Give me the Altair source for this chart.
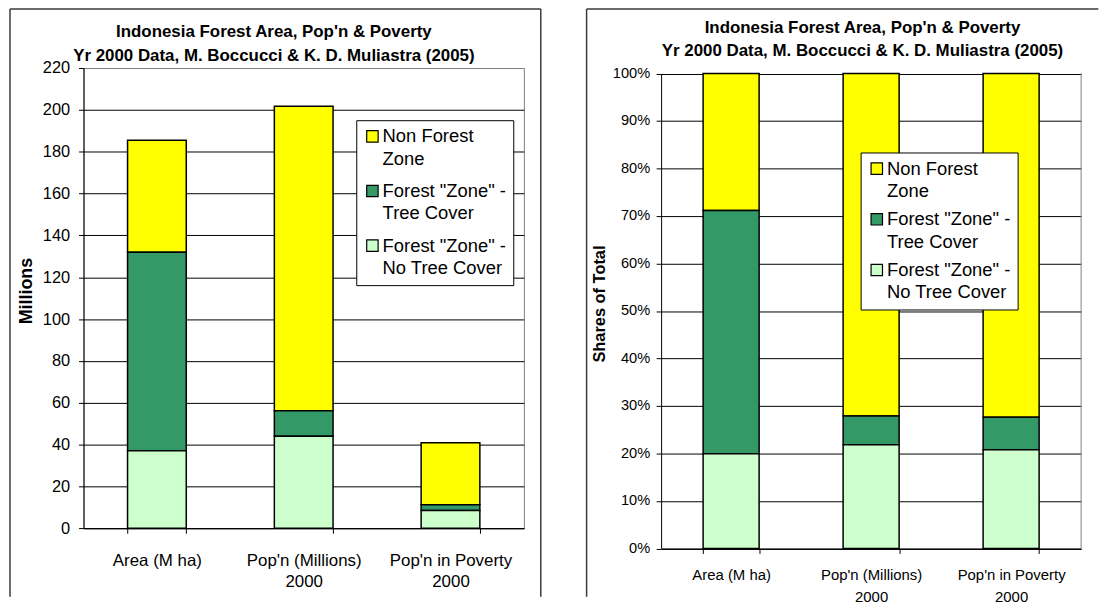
import json
import altair as alt
import pandas as pd

# ---------------- data ----------------
category_lines = [["Area (M ha)"], ["Pop'n (Millions)", "2000"], ["Pop'n in Poverty", "2000"]]
categories = ["\n".join(c) for c in category_lines]

series = ['Non Forest Zone', 'Forest "Zone" - Tree Cover', 'Forest "Zone" - No Tree Cover']
series_lines = [["Non Forest", "Zone"], ['Forest "Zone" -', "Tree Cover"], ['Forest "Zone" -', "No Tree Cover"]]
series_colors = ["#FFFF00", "#339966", "#CCFFCC"]
stack_rank = [2, 1, 0]  # bottom = 0

non_forest = [53.5, 145.5, 29.6]
tree_cover = [95.0, 12.2, 2.8]
no_tree_cover = [37.0, 44.0, 8.5]

left_ticks = list(range(0, 221, 20))
right_ticks = [i / 10 for i in range(11)]

title_lines = ["Indonesia Forest Area, Pop'n & Poverty",
               "Yr 2000 Data, M. Boccucci & K. D. Muliastra (2005)"]

rows = []
for s, vals, rank in zip(series, [non_forest, tree_cover, no_tree_cover], stack_rank):
    for c, v in zip(categories, vals):
        rows.append({"cat": c, "series": s, "value": v, "rank": rank})
df = pd.DataFrame(rows)

FONT = "Liberation Sans"
FRAME = "#3a3a3a"

legend_expr = ""
for name, lines in zip(series, series_lines):
    legend_expr += f"datum.label === {json.dumps(name)} ? {json.dumps(lines)} : "
legend_expr += "datum.label"


def make_panel(stack, y_scale, y_axis, x_fs, x_pad, legend_xy, row_pad, w, h,
               title_dx, title_dy, frame, frame_right, top_gap, view):
    base = alt.Chart(df)
    bars = base.mark_bar(stroke="black", strokeWidth=1.5).encode(
        x=alt.X("cat:N", sort=categories,
                scale=alt.Scale(paddingInner=0.6, paddingOuter=0.3),
                axis=alt.Axis(title=None, labelAngle=0, grid=False,
                              labelExpr="split(datum.label, '\\n')",
                              tickBand="extent", tickSize=5, tickColor="black",
                              domainColor="black", labelFont=FONT,
                              labelFontSize=x_fs, labelLineHeight=21.5,
                              labelPadding=x_pad, labelColor="black")),
        y=alt.Y("value:Q", stack=stack, scale=y_scale, axis=y_axis),
        color=alt.Color("series:N",
                        scale=alt.Scale(domain=series, range=series_colors),
                        legend=alt.Legend(title=None, orient="none",
                                          legendX=legend_xy[0], legendY=legend_xy[1],
                                          symbolType="square", symbolSize=132,
                                          symbolStrokeColor="black", symbolStrokeWidth=1.2,
                                          labelFont=FONT, labelFontSize=18.5,
                                          labelColor="black", labelLimit=400,
                                          labelExpr=legend_expr, labelOffset=1,
                                          fillColor="white", strokeColor="black",
                                          padding=7, rowPadding=row_pad)),
        order=alt.Order("rank:Q"),
    )
    fsrc = alt.Chart(pd.DataFrame({"k": [0]}))
    fx1, fx2, fy1, fy2 = frame
    layers = [bars]
    if top_gap > 0:
        # grey right border of the plot area
        layers.append(fsrc.mark_rule(color="#808080", strokeWidth=1).encode(
            x=alt.value(w), y=alt.value(top_gap), y2=alt.value(h)))
    layers.append(fsrc.mark_rule(color=FRAME, strokeWidth=1.5).encode(
        x=alt.value(fx1), x2=alt.value(fx2), y=alt.value(fy1)))
    layers.append(fsrc.mark_rule(color=FRAME, strokeWidth=1.5).encode(
        x=alt.value(fx1), y=alt.value(fy1), y2=alt.value(fy2)))
    if frame_right:
        layers.append(fsrc.mark_rule(color=FRAME, strokeWidth=1.5).encode(
            x=alt.value(fx2), y=alt.value(fy1), y2=alt.value(fy2)))
    return alt.layer(*layers).properties(
        width=w, height=h, view=view,
        title=alt.TitleParams(text=title_lines, font=FONT, fontSize=17,
                              fontWeight="bold", lineHeight=24, anchor="middle",
                              dx=title_dx, dy=title_dy, color="black", offset=6),
    )


left_axis = alt.Axis(values=left_ticks, title="Millions", grid=True,
                     gridColor={"condition": {"test": "datum.value >= 220", "value": "#808080"},
                                "value": "black"},
                     gridWidth=1, domainColor="black", tickColor="black", tickSize=5,
                     labelFont=FONT, labelFontSize=16.5, labelPadding=9, labelColor="black",
                     titleFont=FONT, titleFontSize=18, titleFontWeight="bold",
                     titleColor="black", titleAngle=270, titleX=-57.5, titleY=224,
                     titleAlign="center", titleBaseline="middle")
right_axis = alt.Axis(values=right_ticks, format=".0%", title="Shares of Total", grid=True,
                      gridColor="black", gridWidth=1, domainColor="black",
                      tickColor="black", tickSize=5, labelFont=FONT, labelFontSize=14.7,
                      labelPadding=6.5, labelColor="black",
                      titleFont=FONT, titleFontSize=16.5, titleFontWeight="bold",
                      titleColor="black", titleAngle=270, titleX=-61.6, titleY=237,
                      titleAlign="center", titleBaseline="middle")

GAP = 5.5  # right plot area starts lower than the left one
RH = 478 + GAP

left = make_panel("zero", alt.Scale(domain=[0, 220], nice=False), left_axis, 17, 19.5,
                  (274.5, 52.5), 13, 443.2, 463.2, -30, 63,
                  (-74, 460.2, -59.5, 532), True, 0,
                  alt.ViewBackground(stroke="#808080", strokeWidth=1))
right = make_panel("normalize", alt.Scale(domain=[0, 1], nice=False, range=[RH, GAP]),
                   right_axis, 15, 14.5,
                   (200.8, 85), 9, 422.7, RH, -8.7, 58.5,
                   (-75, 440, -59.5, 532), False, GAP,
                   alt.ViewBackground(stroke="transparent"))

chart = alt.hconcat(left, right, spacing=42.3).resolve_scale(
    color="independent").resolve_legend(color="independent").properties(
    padding={"left": 0, "top": -2.5, "right": 0, "bottom": 0}
).configure(background="white", style={"guide-label": {"lineHeight": 22.5}})

chart.save("out.html", embed_options={"renderer": "svg", "actions": False})
